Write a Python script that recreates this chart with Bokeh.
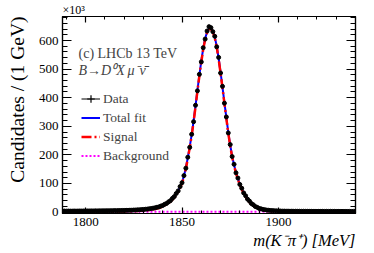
from bokeh.plotting import figure
from bokeh.models import (Range1d, LinearAxis, SingleIntervalTicker, Label,
                          Legend, LegendItem, ColumnDataSource, Title)
from bokeh.embed import file_html
from bokeh.resources import INLINE

# ---------------- data (candidates in units of 10^3 per 1 MeV bin) ----------------
mass = list(range(1788, 1941))

data_k = [
    3.2, 3.5, 3.3, 3.6, 3.4, 3.4, 3.7, 3.5, 3.6, 3.8, 3.6, 3.9,
    3.7, 4.0, 3.8, 4.1, 3.9, 4.2, 4.1, 4.3, 4.2, 4.5,
    4.4, 4.7, 4.6, 4.9, 4.8, 5.1, 5.0, 5.4, 5.3, 5.7,
    5.7, 6.1, 6.1, 6.5, 6.6, 7.1, 7.2, 7.8, 8.0, 8.7,
    9.1, 9.9, 10.4, 11.6, 12.2, 13.7, 14.7, 16.8, 18.1, 21.0,
    23.1, 27.2, 30.2, 35.6, 40.0, 47.8, 54.2, 65.0, 74.1, 89.2,
    102.8, 127.5, 153.6, 191.8, 226.4, 272.0, 316.1, 373.4, 424.0, 481.6,
    525.3, 574.8, 604.9, 633.2, 648.5, 645.0, 631.0, 614.6, 577.8, 540.9,
    486.4, 439.7, 380.8, 332.6, 276.9, 236.2, 194.3, 167.1, 137.2, 118.9,
    96.6, 83.4, 66.9, 57.0, 45.2, 38.3, 29.8, 25.4, 19.6, 16.6,
    12.9, 11.3, 9.1, 8.2, 6.8, 6.4, 5.3, 5.1, 4.4, 4.2,
    3.7, 3.7, 3.3, 3.4, 3.1, 3.2, 2.9, 3.1, 2.8, 3.0,
    2.8, 2.9, 2.7, 2.9, 2.7, 2.8, 2.6, 2.8, 2.6, 2.7,
    2.5, 2.7, 2.5, 2.7, 2.4, 2.6, 2.4, 2.6, 2.4, 2.5,
    2.3, 2.5, 2.3, 2.5, 2.3, 2.4, 2.2, 2.4, 2.2, 2.4,
    2.3,
]

total_fit_k = [
    3.3, 3.3, 3.4, 3.4, 3.5, 3.5, 3.5, 3.6, 3.6, 3.7, 3.7, 3.8,
    3.8, 3.9, 3.9, 4.0, 4.0, 4.1, 4.2, 4.2, 4.3, 4.4,
    4.5, 4.6, 4.7, 4.8, 4.9, 5.0, 5.1, 5.3, 5.4, 5.6,
    5.8, 6.0, 6.2, 6.4, 6.7, 7.0, 7.3, 7.7, 8.1, 8.6,
    9.2, 9.8, 10.5, 11.4, 12.4, 13.5, 14.9, 16.5, 18.4, 20.7,
    23.5, 26.8, 30.6, 35.0, 40.5, 47, 55, 64, 75, 88,
    104, 126, 155, 190, 228, 270, 318, 371, 426, 479,
    528, 572, 607, 630, 642, 643, 633, 612, 580, 538,
    489, 437, 383, 330, 279, 234, 196, 165, 139, 117,
    98, 82, 68, 56, 46, 37.5, 30.5, 24.8, 20.0, 16.2,
    13.2, 11.0, 9.3, 8.0, 7.0, 6.2, 5.5, 5.0, 4.5, 4.1,
    3.8, 3.6, 3.4, 3.3, 3.2, 3.1, 3.0, 3.0, 2.9, 2.9,
    2.9, 2.8, 2.8, 2.8, 2.8, 2.7, 2.7, 2.7, 2.7, 2.6,
    2.6, 2.6, 2.6, 2.6, 2.5, 2.5, 2.5, 2.5, 2.5, 2.4,
    2.4, 2.4, 2.4, 2.4, 2.4, 2.3, 2.3, 2.3, 2.3, 2.3,
    2.3,
]

signal_k = [
    0.4, 0.4, 0.4, 0.4, 0.5, 0.5, 0.5, 0.5, 0.5, 0.6, 0.6, 0.6,
    0.6, 0.7, 0.7, 0.7, 0.8, 0.8, 0.9, 0.9, 1.0, 1.0,
    1.1, 1.2, 1.2, 1.3, 1.4, 1.5, 1.6, 1.7, 1.8, 2.0,
    2.1, 2.3, 2.5, 2.7, 3.0, 3.2, 3.5, 3.9, 4.3, 4.8,
    5.3, 5.9, 6.6, 7.4, 8.4, 9.5, 10.8, 12.4, 14.3, 16.6,
    19.4, 22.7, 26.6, 31.1, 36.7, 43.2, 51.4, 60.6, 71.7, 84.8,
    101, 123, 152, 187, 225, 267, 315, 368, 423, 476,
    525, 569, 604, 627, 639, 640, 630, 609, 577, 535,
    486, 434, 380, 327, 276, 231, 193, 162, 136, 114,
    95, 79, 65, 53, 43, 34.6, 27.7, 22.1, 17.5, 13.8,
    10.8, 8.7, 7.0, 5.8, 4.8, 4.0, 3.3, 2.8, 2.3, 1.9,
    1.6, 1.4, 1.2, 1.0, 0.9, 0.8, 0.7, 0.6, 0.6, 0.5,
    0.5, 0.4, 0.4, 0.4, 0.4, 0.3, 0.3, 0.3, 0.3, 0.3,
    0.3, 0.3, 0.3, 0.2, 0.2, 0.2, 0.2, 0.2, 0.2, 0.2,
    0.2, 0.2, 0.2, 0.2, 0.2, 0.2, 0.2, 0.2, 0.2, 0.2,
    0.2,
]

bkg_mass = [1788, 1820, 1860, 1900, 1940]
bkg_k = [0.9, 0.85, 0.8, 0.75, 0.7]

x_tick_step = 50
y_tick_step = 100

assert len(mass) == len(data_k) == len(total_fit_k) == len(signal_k)

FONT = "Liberation Serif"

p = figure(width=374, height=253, output_backend="svg", toolbar_location=None,
           x_range=Range1d(1788, 1940), y_range=Range1d(-5, 684),
           x_axis_type=None, y_axis_type=None,
           min_border_left=59, min_border_right=19,
           min_border_top=15, min_border_bottom=40)
p.grid.visible = False
p.outline_line_color = "black"
p.outline_line_width = 1.2
p.background_fill_color = "white"
p.border_fill_color = "white"

p.title = Title(text="\u00d710\u00b3", align="left", text_font=FONT,
                text_font_size="12px", text_font_style="normal",
                text_color="black", standoff=0, offset=0)


def make_axis(interval, labels, tin, mtin):
    ax = LinearAxis(ticker=SingleIntervalTicker(interval=interval, num_minor_ticks=5),
                    axis_line_color="black", axis_line_width=1.2,
                    major_tick_in=tin, major_tick_out=0,
                    minor_tick_in=mtin, minor_tick_out=0,
                    major_tick_line_color="black", minor_tick_line_color="black",
                    major_tick_line_width=1.2, minor_tick_line_width=1)
    if labels:
        ax.major_label_text_font = FONT
        ax.major_label_text_font_size = "13px"
        ax.major_label_text_color = "black"
        ax.major_label_standoff = 4
    else:
        ax.major_label_text_font_size = "0px"
        ax.major_label_standoff = 0
    return ax


p.add_layout(make_axis(x_tick_step, True, 6, 3), "below")
p.add_layout(make_axis(x_tick_step, False, 6, 3), "above")
p.add_layout(make_axis(y_tick_step, True, 9, 5), "left")
p.add_layout(make_axis(y_tick_step, False, 9, 5), "right")

# axis titles, right/top aligned as in the reference
p.add_layout(Title(text="m(K\u207b\u03c0\u207a) [MeV]", align="right", text_font=FONT,
                   text_font_size="16.5px", text_font_style="italic",
                   text_color="black", standoff=0), "below")
p.add_layout(Title(text="Candidates / (1 GeV)", align="right", text_font=FONT,
                   text_font_size="19.5px", text_font_style="normal",
                   text_color="black", standoff=12, vertical_align="top"), "left")

# ---------------- glyphs ----------------
err = [(v * 1000) ** 0.5 / 1000 for v in data_k]
src = ColumnDataSource(dict(
    m=mass, n=data_k,
    lo=[v - e for v, e in zip(data_k, err)],
    hi=[v + e for v, e in zip(data_k, err)],
    ml=[m - 0.5 for m in mass], mr=[m + 0.5 for m in mass],
))

r_bkg = p.line(bkg_mass, bkg_k, line_color="#ff00ff", line_width=2, line_dash="2 2")
r_tot = p.line(mass, total_fit_k, line_color="#0000ff", line_width=2)
r_sig = p.line(mass, signal_k, line_color="#ff0000", line_width=2.5, line_dash="10 3 2 3")
r_eh = p.segment(x0="ml", y0="n", x1="mr", y1="n", source=src, line_color="black", line_width=1)
r_ev = p.segment(x0="m", y0="lo", x1="m", y1="hi", source=src, line_color="black", line_width=1)
r_pt = p.scatter(x="m", y="n", source=src, size=4, marker="circle",
                 fill_color="black", line_color="black")
# legend proxy for the data marker with its error bars (not drawn in the plot)
r_cross = p.scatter(x="m", y="n", source=src, marker="cross", size=4,
                    line_color="black", line_width=1.2, visible=False)

legend = Legend(items=[
    LegendItem(label="Data", renderers=[r_eh, r_cross]),
    LegendItem(label="Total fit", renderers=[r_tot]),
    LegendItem(label="Signal", renderers=[r_sig]),
    LegendItem(label="Background", renderers=[r_bkg]),
], location=(19, 48), background_fill_alpha=0, border_line_color=None,
    padding=0, margin=0, spacing=0, glyph_width=19, glyph_height=19,
    label_height=19, label_standoff=3, label_text_font=FONT,
    label_text_font_size="13.5px", click_policy="none")
p.add_layout(legend)

# ---------------- texts inside the frame ----------------
p.add_layout(Label(x=16, y=160, x_units="screen", y_units="screen",
                   text="(c) LHCb 13 TeV", text_align="left", text_baseline="middle",
                   text_font=FONT, text_font_size="14px"))
p.add_layout(Label(x=16, y=143, x_units="screen", y_units="screen",
                   text="B\u2192D\u2070X\u2009\u03bc\u207b\u03bd\u0304", text_align="left",
                   text_baseline="middle", text_font=FONT, text_font_size="14px",
                   text_font_style="italic"))

open("out.html", "w").write(file_html(p, INLINE))
